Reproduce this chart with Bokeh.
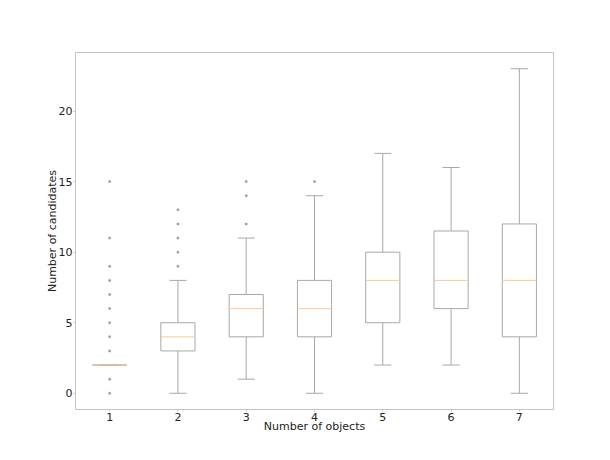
from bokeh.plotting import figure
from bokeh.models import Range1d, FixedTicker, ColumnDataSource
from bokeh.embed import file_html
from bokeh.resources import INLINE

categories = [1, 2, 3, 4, 5, 6, 7]
q1 = [2, 3, 4, 4, 5, 6, 4]
median = [2, 4, 6, 6, 8, 8, 8]
q3 = [2, 5, 7, 8, 10, 11.5, 12]
whisker_low = [2, 0, 1, 0, 2, 2, 0]
whisker_high = [2, 8, 11, 14, 17, 16, 23]
outliers = {
    1: [0, 1, 3, 4, 5, 6, 7, 8, 9, 11, 15],
    2: [9, 10, 11, 12, 13],
    3: [12, 14, 15],
    4: [15],
}
y_ticks = [0, 5, 10, 15, 20]

box_w = 0.5
cap_w = 0.25

p = figure(width=594, height=444, output_backend="svg", toolbar_location=None,
           x_range=Range1d(0.5, 7.5), y_range=Range1d(-1.15, 24.15),
           min_border_left=75, min_border_right=41, min_border_top=52, min_border_bottom=35)
p.xgrid.visible = False
p.ygrid.visible = False
p.outline_line_color = "#c4c4c4"
p.outline_line_width = 1
p.background_fill_color = "white"
p.border_fill_color = "white"

src = ColumnDataSource(dict(
    x=categories, q1=q1, med=median, q3=q3, lo=whisker_low, hi=whisker_high,
    left=[c - box_w / 2 for c in categories], right=[c + box_w / 2 for c in categories],
    cl=[c - cap_w / 2 for c in categories], cr=[c + cap_w / 2 for c in categories],
))

edge = "#a8a8a8"
# whiskers
p.segment(x0="x", y0="q3", x1="x", y1="hi", source=src, line_color=edge, line_width=1)
p.segment(x0="x", y0="lo", x1="x", y1="q1", source=src, line_color=edge, line_width=1)
# caps
p.segment(x0="cl", y0="hi", x1="cr", y1="hi", source=src, line_color=edge, line_width=1)
p.segment(x0="cl", y0="lo", x1="cr", y1="lo", source=src, line_color=edge, line_width=1)
# boxes
p.quad(left="left", right="right", bottom="q1", top="q3", source=src,
       fill_color=None, line_color=edge, line_width=1)
# medians
p.segment(x0="left", y0="med", x1="right", y1="med", source=src, line_color="#ffc892", line_width=1)

ox, oy = [], []
for k, vals in outliers.items():
    for v in vals:
        ox.append(k)
        oy.append(v)
p.scatter(x=ox, y=oy, size=2.5, marker="circle", fill_color="#999999", line_color="#bbbbbb", line_width=0.5)

p.xaxis.ticker = FixedTicker(ticks=categories)
p.yaxis.ticker = FixedTicker(ticks=y_ticks)
for ax in (p.xaxis, p.yaxis):
    ax.axis_line_color = None
    ax.major_tick_line_color = "#c4c4c4"
    ax.major_tick_out = 2
    ax.major_tick_in = 0
    ax.minor_tick_line_color = None
    ax.major_label_text_font = "DejaVu Sans"
    ax.major_label_text_font_size = "11px"
    ax.major_label_text_color = "#222222"
    ax.axis_label_text_font = "DejaVu Sans"
    ax.axis_label_text_font_size = "11px"
    ax.axis_label_text_font_style = "normal"
    ax.axis_label_text_color = "#222222"
    ax.major_label_standoff = 1
p.xaxis.axis_label_standoff = -4
p.yaxis.axis_label_standoff = -3
p.xaxis.axis_label = "Number of objects"
p.yaxis.axis_label = "Number of candidates"

open("out.html", "w").write(file_html(p, INLINE))
